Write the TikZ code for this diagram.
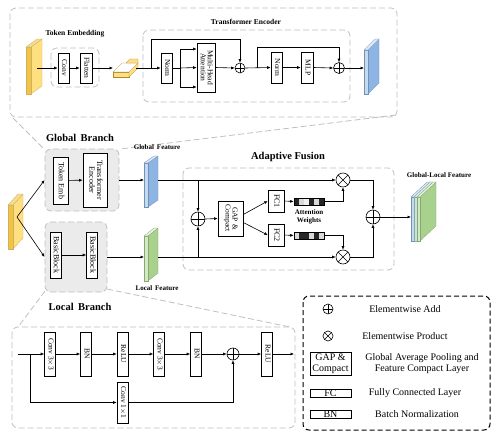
\documentclass[tikz,border=0pt]{standalone}
\usepackage{fontspec}
\setmainfont{Liberation Serif}
\usetikzlibrary{arrows.meta,calc}
\definecolor{yelS}{HTML}{FFDF80}
\definecolor{yelF}{HTML}{F5C342}
\definecolor{bluS}{HTML}{8DB4E2}
\definecolor{bluF}{HTML}{C5D9F1}
\definecolor{grnS}{HTML}{A9D18E}
\definecolor{grnF}{HTML}{D6E9C6}
\definecolor{teaS}{HTML}{A6D5CB}
\definecolor{teaF}{HTML}{C8E6DF}
\newcommand{\rt}[1]{\rotatebox{-90}{\def\arraystretch{0.85}\begin{tabular}{@{}c@{}}#1\end{tabular}}}
\newcommand{\slab}[8]{%
 \filldraw[fill=#8, draw=#8!80!black, line width=0.3pt] (#1+#4,#2) -- ++(#5,-#6) -- (#1+#4+#5,#3-#6) -- (#1+#4,#3) -- cycle;
 \filldraw[fill=#7, draw=#8!80!black, line width=0.3pt] (#1,#2) rectangle (#1+#4,#3);
 \filldraw[fill=#7!60!white, draw=#8!80!black, line width=0.3pt] (#1,#2) -- (#1+#4,#2) -- ++(#5,-#6) -- ++(-#4,0) -- cycle;}
\tikzset{
 gdash/.style={draw=black!25, dash pattern=on 6pt off 3pt, line width=0.8pt, rounded corners=6pt},
 zl/.style={draw=black!25, dash pattern=on 6pt off 3pt, line width=0.8pt},
 brbox/.style={gdash, fill=black!8, inner sep=0pt},
 blk/.style={draw, fill=white, inner sep=0pt, line width=0.6pt, align=center, font=\fontsize{7.5}{8}\selectfont},
 blks/.style={blk, font=\fontsize{7.5}{8}\selectfont},
 blkm/.style={blk, font=\fontsize{8}{8.5}\selectfont},
 lgbox/.style={draw, fill=white, inner sep=0pt, line width=0.6pt, align=center, font=\fontsize{10}{11}\selectfont},
 lgtxt/.style={align=center, font=\fontsize{10}{11.5}\selectfont},
 arr/.style={-{Latex[length=3.5pt,width=3pt]}, line width=0.6pt},
 ln/.style={line width=0.6pt},
 addc/.style={circle, draw, fill=white, line width=0.6pt, minimum size=#1, inner sep=0pt,
   path picture={\draw[line width=0.6pt] (path picture bounding box.north)--(path picture bounding box.south) (path picture bounding box.west)--(path picture bounding box.east);}},
 addc/.default=12pt,
 mulc/.style={circle, draw, fill=white, line width=0.6pt, minimum size=#1, inner sep=0pt,
   path picture={\draw[line width=0.6pt] (path picture bounding box.north west)--(path picture bounding box.south east) (path picture bounding box.south west)--(path picture bounding box.north east);}},
 mulc/.default=12pt,
 ttl/.style={font=\bfseries\fontsize{10.5}{12}\selectfont},
 lbl/.style={font=\bfseries\fontsize{7.5}{8.5}\selectfont, align=center},
}
\begin{document}
\begin{tikzpicture}[x=1pt,y=-1pt]
\useasboundingbox (0,0) rectangle (498,439);

% ---------------- panels and zoom lines ----------------
\draw[gdash] (10,8) rectangle (397,117);
\draw[gdash] (51,48) rectangle (99,87);
\draw[gdash] (143,30) rectangle (350,102);
\draw[zl] (13,118) -- (45,150);
\draw[zl] (396,115) -- (120,149);
\draw[gdash] (183,168) rectangle (394,270);
\draw[gdash] (12,327) rectangle (295,428);
\draw[zl] (45,291) -- (18,327);
\draw[zl] (107,289) -- (290,327);

\node[brbox, minimum width=74pt, minimum height=62pt] (GB) at (82,180) {};
\node[brbox, minimum width=62pt, minimum height=70pt] (LB) at (76,257) {};

% ---------------- titles ----------------
\node[lbl] (tTE) at (75,34) {Token Embedding};
\node[lbl] (tTR) at (246,22) {Transformer Encoder};
\node[ttl] (tGB) at (80,138) {Global\, Branch};
\node[ttl] (tLB) at (80,307) {Local\, Branch};
\node[ttl] (tAF) at (288,157) {Adaptive Fusion};
\node[lbl, font=\bfseries\fontsize{7}{8}\selectfont] (tGF) at (157,147) {Global\, Feature};
\node[lbl, font=\bfseries\fontsize{7}{8}\selectfont] (tLF) at (157,288) {Local\, Feature};
\node[lbl, font=\bfseries\fontsize{7}{8}\selectfont] (tGL) at (439,175) {Global-Local Feature};
\node[lbl, font=\bfseries\fontsize{7}{8}\selectfont] (tAW) at (309,217) {Attention\\Weights};

% ---------------- top panel ----------------
\slab{26}{47}{94}{5}{11}{8}{yelF}{yelS}
\coordinate (inT) at (37,68);
\node[blk, minimum width=11pt, minimum height=30pt] (Conv) at (63.5,68) {\rt{Conv}};
\node[blk, minimum width=12pt, minimum height=30pt] (Flat) at (86,68) {\rt{Flatten}};
% flattened tile
\filldraw[fill=yelS, draw=yelF!70!black, line width=0.3pt] (113,72) -- (129,72) -- (129,77) -- (113,77) -- cycle;
\filldraw[fill=yelS, draw=yelF!70!black, line width=0.3pt] (129,72) -- (138,63) -- (138,68) -- (129,77) -- cycle;
\filldraw[fill=white, draw=yelF!70!black, line width=0.3pt] (113,72) -- (129,72) -- (138,63) -- (122,63) -- cycle;
\filldraw[fill=yelS, draw=yelF!70!black, line width=0.3pt] (126,63) -- (138,63) -- (138,59) -- (130,59) -- cycle;
\coordinate (tileL) at (113,68);
\coordinate (tileR) at (136,68);
\node[blk, minimum width=11pt, minimum height=30pt] (N1) at (166.5,68) {\rt{Norm}};
\node[blk, minimum width=18pt, minimum height=49pt] (MHA) at (206,67.5) {\rt{Multi-Head\\Attention}};
\node[addc=10pt] (A1) at (240,68) {};
\node[blk, minimum width=11pt, minimum height=31pt] (N2) at (276.5,67.5) {\rt{Norm}};
\node[blk, minimum width=12pt, minimum height=31pt] (MLP) at (307,67.5) {\rt{MLP}};
\node[addc=11pt] (A2) at (339,68) {};
\slab{364}{50}{94}{4}{11}{11}{bluF}{bluS}
\coordinate (outT) at (364,68);

\draw[arr] (inT) -- (Conv.west);
\draw[arr] (Conv) -- (Flat);
\draw[arr] (Flat.east) -- (tileL);
\draw[arr] (tileR) -- (N1.west);
\coordinate (sk1) at (151,68);
\draw[arr] (sk1) -- (151,39) -| (A1.north);
\coordinate (br1) at (180,68);
\draw[ln] (N1.east) -- (br1);
\draw[arr] (br1) -- (MHA.west);
\draw[arr] (br1) |- ([yshift=18.5pt]MHA.west);
\draw[arr] (br1) |- ([yshift=-19.5pt]MHA.west);
\draw[arr] (MHA.east) -- (A1.west);
\draw[arr] (A1.east) -- (N2.west);
\coordinate (sk2) at (257,68);
\draw[arr] (sk2) -- (257,47) -| (A2.north);
\draw[arr] (N2) -- (MLP);
\draw[arr] (MLP.east) -- (A2.west);
\draw[arr] (A2.east) -- (outT);

% ---------------- branches ----------------
\slab{8}{205}{249}{5}{10}{11}{yelF}{yelS}
\coordinate (inS) at (17,217);
\draw[arr] (inS) -- (GB.west);
\draw[arr] (inS) -- (LB.west);
\node[blkm, minimum width=15pt, minimum height=47pt] (TokE) at (60.5,180.5) {\rt{Token Emb}};
\node[blkm, minimum width=24pt, minimum height=54pt] (TEnc) at (95,180) {\rt{Transformer\\Encoder}};
\draw[arr] (TokE) -- (TEnc);
\node[blkm, minimum width=11pt, minimum height=46pt] (BB1) at (55.5,255) {\rt{BasicBlock}};
\node[blkm, minimum width=11pt, minimum height=46pt] (BB2) at (92,255) {\rt{BasicBlock}};
\draw[arr] (BB1) -- (BB2);

\slab{144}{163}{207}{4}{10}{7}{bluF}{bluS}
\slab{144}{236}{281}{4}{10}{8}{grnF}{grnS}
\coordinate (gfL) at (144,180);
\coordinate (gfR) at (158,180);
\coordinate (lfL) at (144,257);
\coordinate (lfR) at (158,257);
\draw[arr] (GB.east) -- (gfL);
\draw[arr] (LB.east) -- (lfL);

% ---------------- adaptive fusion ----------------
\node[mulc=14pt] (MT) at (343,180) {};
\node[mulc=14pt] (MB) at (343,257) {};
\node[addc=14pt] (AF) at (198,219) {};
\node[addc=14pt] (AO) at (373,217) {};
\node[blk, minimum width=25pt, minimum height=35pt] (GAP) at (230.5,218.5) {\rt{GAP \&\\Compact}};
\node[blkm, minimum width=16pt, minimum height=22pt] (FC1) at (276,201) {\rt{FC1}};
\node[blkm, minimum width=16pt, minimum height=22pt] (FC2) at (276,235) {\rt{FC2}};
\foreach \c [count=\i from 0] in {black!85,black!15,black!6,black!85,black!15,black!85}
  \fill[\c] (294+5*\i,198) rectangle ++(5,7);
\foreach \c [count=\i from 0] in {black!15,black!85,black!85,black!15,black!85,black!15}
  \fill[\c] (294+5*\i,232) rectangle ++(5,7);
\node[draw, line width=0.6pt, minimum width=30pt, minimum height=7pt, inner sep=0pt] (bar1) at (309,201.5) {};
\node[draw, line width=0.6pt, minimum width=30pt, minimum height=7pt, inner sep=0pt] (bar2) at (309,235.5) {};

\draw[arr] (gfR) -- (MT.west);
\draw[arr] (lfR) -- (MB.west);
\coordinate (fT) at (198,180);
\coordinate (fB) at (198,257);
\draw[arr] (fT) -- (AF.north);
\draw[arr] (fB) -- (AF.south);
\draw[arr] (AF.east) -- (GAP.west);
\draw[arr] ([yshift=4pt]GAP.east) -- (FC1.west);
\draw[arr] ([yshift=-4pt]GAP.east) -- (FC2.west);
\draw[arr] (FC1.east) -- (bar1.west);
\draw[arr] (FC2.east) -- (bar2.west);
\draw[arr] (bar1.east) -| (MT.south);
\draw[arr] (bar2.east) -| (MB.north);
\draw[arr] (MT.east) -| (AO.north);
\draw[arr] (MB.east) -| (AO.south);

\slab{411}{197}{241}{3}{16}{15}{bluF}{bluS}
\slab{414}{197}{241}{3}{16}{15}{teaF}{teaS}
\slab{417}{197}{241}{3}{16}{15}{grnF}{grnS}
\coordinate (glL) at (411,217);
\draw[arr] (AO.east) -- (glL);

% ---------------- lower panel (basic block) ----------------
\coordinate (lin) at (18,354);
\node[blks, minimum width=11pt, minimum height=44pt] (C1) at (50,354) {\rt{Conv 3$\times$3}};
\node[blks, minimum width=11pt, minimum height=44pt] (BN1) at (86,354) {\rt{BN}};
\node[blks, minimum width=11pt, minimum height=44pt] (R1) at (122.5,354) {\rt{ReLU}};
\node[blks, minimum width=11pt, minimum height=44pt] (C2) at (159,354) {\rt{Conv 3$\times$3}};
\node[blks, minimum width=11pt, minimum height=44pt] (BN2) at (196,354) {\rt{BN}};
\node[addc=12pt] (AL) at (233,354) {};
\node[blks, minimum width=11pt, minimum height=44pt] (R2) at (267,354) {\rt{ReLU}};
\coordinate (lout) at (294,354);
\node[blks, minimum width=11pt, minimum height=41pt] (C11) at (122.5,402.5) {\rt{Conv 1$\times$1}};
\draw[arr] (lin) -- (C1.west);
\draw[arr] (C1) -- (BN1);
\draw[arr] (BN1) -- (R1);
\draw[arr] (R1) -- (C2);
\draw[arr] (C2) -- (BN2);
\draw[arr] (BN2.east) -- (AL.west);
\draw[arr] (AL.east) -- (R2.west);
\draw[arr] (R2.east) -- (lout);
\coordinate (sc) at (30,354);
\draw[arr] (sc) |- (C11.west);
\draw[arr] (C11.east) -| (AL.south);

% ---------------- legend ----------------
\draw[dash pattern=on 5pt off 3pt, line width=1pt, rounded corners=6pt] (303,296) rectangle (490,430);
\node[addc=10pt] (LA) at (328,309) {};
\node[lgtxt] (LAt) at (405,309) {Elementwise Add};
\node[mulc=10pt] (LM) at (328,336) {};
\node[lgtxt] (LMt) at (405,336) {Elementwise Product};
\node[lgbox, minimum width=41pt, minimum height=23pt] (LG) at (330.5,363.5) {GAP \&\\Compact};
\node[lgtxt] (LGt) at (422,363.5) {Global Average Pooling and\\Feature Compact Layer};
\node[lgbox, minimum width=41pt, minimum height=8pt] (LF) at (330.5,393) {FC};
\node[lgtxt] (LFt) at (415,393) {Fully Connected Layer};
\node[lgbox, minimum width=41pt, minimum height=8pt] (LBN) at (330.5,414) {BN};
\node[lgtxt] (LBNt) at (417,414) {Batch Normalization};
\end{tikzpicture}
\end{document}
